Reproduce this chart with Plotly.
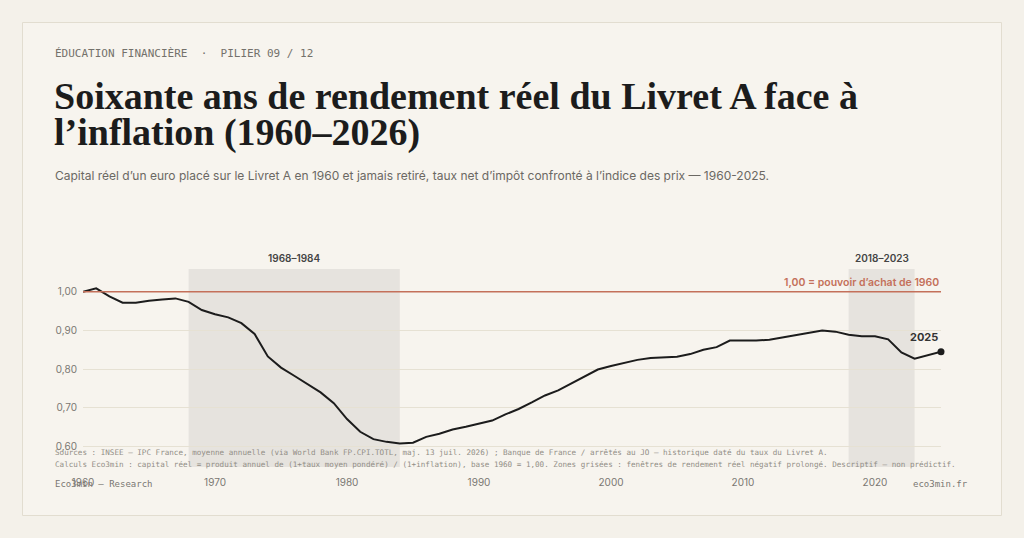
import plotly.graph_objects as go

# real capital of 1 euro placed in 1960 (base 1960 = 1.00)
years = list(range(1960, 2026))
capital = [
    1.000, 1.009, 0.988, 0.972, 0.972, 0.977, 0.980, 0.983, 0.974, 0.953,
    0.942, 0.934, 0.919, 0.891, 0.833, 0.804, 0.783, 0.761, 0.740, 0.712,
    0.671, 0.638, 0.619, 0.612, 0.608, 0.610, 0.625, 0.633, 0.644, 0.651,
    0.659, 0.667, 0.683, 0.697, 0.714, 0.732, 0.745, 0.763, 0.782, 0.799,
    0.808, 0.816, 0.824, 0.829, 0.830, 0.832, 0.839, 0.850, 0.857, 0.874,
    0.874, 0.874, 0.876, 0.882, 0.888, 0.895, 0.900, 0.897, 0.889, 0.885,
    0.885, 0.877, 0.843, 0.827, 0.836, 0.845,
]
zones_start = [1968, 2018]
zones_end = [1984, 2023]
zones_label = ["1968–1984", "2018–2023"]
y_ticks = [0.6, 0.7, 0.8, 0.9, 1.0]
y_ticktext = ["0,60", "0,70", "0,80", "0,90", "1,00"]
x_ticks = [1960, 1970, 1980, 1990, 2000, 2010, 2020]

OUTER = "#f4f1ea"
CARD = "#f7f4ee"
INK = "#1c1c1c"
GREY = "#7a7772"
RED = "#c4705a"
MONO = "DejaVu Sans Mono, Liberation Mono, monospace"
SANS = "Inter, Noto Sans, sans-serif"
SERIF = "Liberation Serif, DejaVu Serif, serif"

W, H = 1024, 538
L, R, T, B = 83, 83, 269, 71
pw, ph = W - L - R, H - T - B


def px(x):
    return (x - L) / pw


def py(y):
    return (H - B - y) / ph


fig = go.Figure()

# card
fig.add_shape(type="rect", xref="paper", yref="paper",
              x0=px(22.5), x1=px(1001.5), y0=py(22.5), y1=py(515.5),
              line=dict(color="#e2ddd0", width=1), fillcolor=CARD, layer="below")

for s, e in zip(zones_start, zones_end):
    fig.add_vrect(x0=s, x1=e, fillcolor="#e6e3de", line_width=0, layer="below")

fig.add_hline(y=1.0, line=dict(color=RED, width=1.5))

fig.add_trace(go.Scatter(
    x=years, y=capital, mode="lines",
    line=dict(color=INK, width=2), hoverinfo="x+y", showlegend=False))
fig.add_trace(go.Scatter(
    x=[years[-1]], y=[capital[-1]], mode="markers", cliponaxis=False,
    marker=dict(color=INK, size=7), showlegend=False))

annotations = []


def note(x, y, text, font, xanchor="left", xref="paper", yref="paper"):
    annotations.append(dict(x=x, y=y, xref=xref, yref=yref, text=text,
                            xanchor=xanchor, yanchor="middle", showarrow=False,
                            font=font))


for s, e, lab in zip(zones_start, zones_end, zones_label):
    note((s + e) / 2, py(258), lab,
         dict(family=SANS, size=10, color="#444", weight=600),
         xanchor="center", xref="x")

note(years[-1], py(282), "1,00 = pouvoir d’achat de 1960",
     dict(family=SANS, size=10.5, color=RED, weight=600),
     xanchor="right", xref="x")
annotations.append(dict(
    x=years[-1], y=capital[-1], xref="x", yref="y", text="2025",
    xanchor="right", yanchor="bottom", xshift=-1, yshift=6, showarrow=False,
    font=dict(family=SANS, size=11, color="#333", weight=700)))

# header
note(px(53), py(53), "ÉDUCATION FINANCIÈRE  ·  PILIER 09 / 12",
     dict(family=MONO, size=11, color="#74716b"))
note(px(52), py(96), "<b>Soixante ans de rendement réel du Livret A face à</b>",
     dict(family=SERIF, size=38, color=INK))
note(px(52), py(132), "<b>l’inflation (1960–2026)</b>",
     dict(family=SERIF, size=38, color=INK))
note(px(53), py(175),
     "Capital réel d’un euro placé sur le Livret A en 1960 et jamais retiré, "
     "taux net d’impôt confronté à l’indice des prix — 1960-2025.",
     dict(family=SANS, size=12, color="#6b6863"))

# footer
note(px(53), py(452),
     "Sources : INSEE — IPC France, moyenne annuelle (via World Bank FP.CPI.TOTL, maj. 13 juil. 2026) ; "
     "Banque de France / arrêtés au JO — historique daté du taux du Livret A.",
     dict(family=MONO, size=7.6, color="#928e86"))
note(px(53), py(464),
     "Calculs Eco3min : capital réel = produit annuel de (1+taux moyen pondéré) / (1+inflation), "
     "base 1960 = 1,00. Zones grisées : fenêtres de rendement réel négatif prolongé. Descriptif — non prédictif.",
     dict(family=MONO, size=7.6, color="#928e86"))
note(px(53), py(484), "Eco3min — Research",
     dict(family=MONO, size=9, color=GREY))
note(px(970), py(484), "eco3min.fr",
     dict(family=MONO, size=9, color=GREY), xanchor="right")

fig.update_layout(
    width=W, height=H,
    margin=dict(l=L, r=R, t=T, b=B),
    paper_bgcolor=OUTER, plot_bgcolor="rgba(0,0,0,0)",
    annotations=annotations,
    showlegend=False,
    xaxis=dict(range=[1960, 2025], tickvals=x_ticks, showgrid=False,
               zeroline=False, showline=False, ticks="", ticklabelstandoff=8,
               tickfont=dict(family=SANS, size=10, color=GREY)),
    yaxis=dict(range=[0.547, 1.059], tickvals=y_ticks, ticktext=y_ticktext,
               showgrid=True, gridcolor="#e6e1d3", gridwidth=1,
               zeroline=False, showline=False, ticks="", ticklabelstandoff=5,
               tickfont=dict(family=SANS, size=10, color=GREY)),
)

fig.write_html("out.html", config={"displayModeBar": False},
               post_script="document.body.style.margin='0';"
                           "document.body.style.background='" + OUTER + "';")
